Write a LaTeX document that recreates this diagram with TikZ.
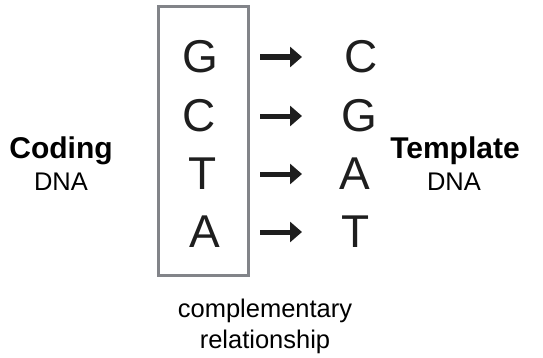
\documentclass[tikz,border=0pt]{standalone}
\usepackage{fontspec}
\setmainfont{Liberation Sans}
\usetikzlibrary{arrows.meta}

\definecolor{cadre}{RGB}{130,132,137}
\definecolor{encre}{RGB}{30,30,30}

\begin{document}
\begin{tikzpicture}[x=1pt,y=1pt,
  nucl/.style={font=\fontsize{46}{46}\selectfont,text=encre,inner sep=0pt},
  fleche/.style={line width=5pt,color=encre,-{Triangle[length=12pt,width=20pt]}},
  titre/.style={font=\fontsize{30}{30}\selectfont\bfseries},
  soustitre/.style={font=\fontsize{25.5}{31}\selectfont}]
\useasboundingbox (0,0) rectangle (543,357);

% cadre du brin codant
\node[draw=cadre,line width=3pt,minimum width=90pt,minimum height=268pt,inner sep=0pt] (box) at (203.5,216) {};

% bases et appariements
\foreach \i/\a/\xa/\b/\xb/\y in {%
    1/G/200/C/361/300,2/C/199/G/359/241,%
    3/T/203/A/355/183,4/A/205/T/356/125%
}{
  \node[nucl] (c\i) at (\xa,\y) {\a};
  \node[nucl] (t\i) at (\xb,\y) {\b};
  \draw[fleche] ([xshift=10pt]box.east |- c\i) -- ([xshift=52pt]box.east |- c\i);
}

% titres des brins
\node[titre,anchor=base] (coding) at (61,199) {Coding};
\node[soustitre,anchor=base] (codingdna) at (61,167) {DNA};
\node[titre,anchor=base] (template) at (455,199) {Template};
\node[soustitre,anchor=base] (templatedna) at (454,167) {DNA};

% legende (ancre base = derniere ligne)
\node[soustitre,align=center,anchor=base] (lien) at (265,9) {complementary\\relationship};

\end{tikzpicture}
\end{document}
